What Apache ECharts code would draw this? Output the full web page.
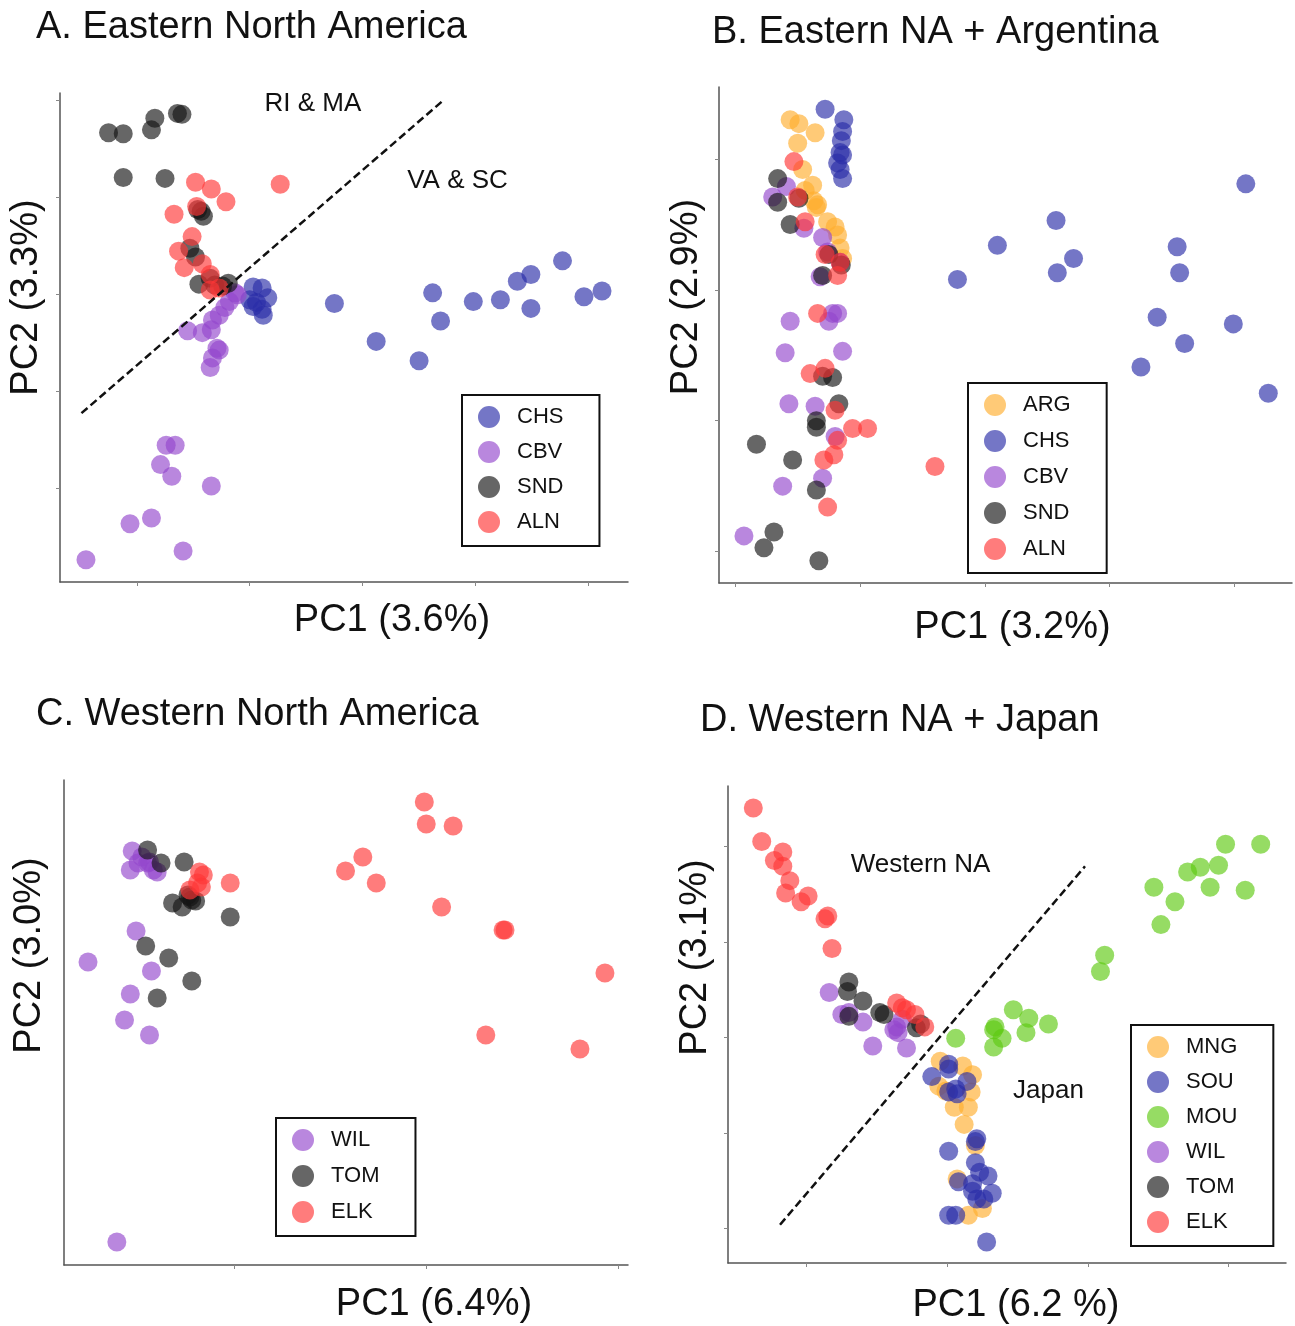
<!DOCTYPE html>
<html>
<head>
<meta charset="utf-8">
<script src="https://cdn.jsdelivr.net/npm/echarts@6/dist/echarts.min.js"></script>
<style>
  html, body { margin: 0; padding: 0; background: #fff; }
  #main { width: 1295px; height: 1326px; }
</style>
</head>
<body>
<div id="main"></div>
<script>
// PCA scores (axis units: one tick = 1)

// A. Eastern North America
var aCHS = [[0.03,0.07],[0.11,0.06],[0.16,-0.04],[0.00,-0.06],[0.06,-0.09],[0.11,-0.16],[0.12,-0.22],[0.03,-0.13],
  [0.75,-0.10],[1.12,-0.49],[1.50,-0.69],[1.62,0.01],[1.69,-0.28],[1.98,-0.08],[2.22,-0.06],[2.37,0.13],
  [2.49,0.20],[2.49,-0.15],[2.77,0.34],[2.96,-0.03],[3.12,0.03]];
var aCBV = [[-0.13,0.01],[-0.11,-0.01],[-0.18,-0.08],[-0.22,-0.14],[-0.27,-0.22],[-0.33,-0.27],[-0.34,-0.37],
  [-0.42,-0.40],[-0.55,-0.38],[-0.29,-0.56],[-0.27,-0.58],[-0.33,-0.66],[-0.35,-0.76],[-0.74,-1.56],[-0.66,-1.56],
  [-0.79,-1.76],[-0.69,-1.88],[-0.34,-1.98],[-0.87,-2.31],[-1.06,-2.37],[-0.59,-2.65],[-1.45,-2.74]];
var aSND = [[-1.25,1.66],[-1.12,1.65],[-0.87,1.69],[-0.84,1.81],[-0.64,1.86],[-0.60,1.85],[-1.12,1.20],[-0.75,1.19],
  [-0.46,0.87],[-0.43,0.85],[-0.41,0.80],[-0.53,0.47],[-0.48,0.38],[-0.35,0.16],[-0.45,0.10],[-0.31,0.09],
  [-0.19,0.11],[-0.24,0.08]];
var aALN = [[-0.48,1.15],[-0.34,1.08],[0.27,1.13],[-0.21,0.95],[-0.67,0.82],[-0.47,0.90],[-0.51,0.59],[-0.63,0.44],
  [-0.42,0.31],[-0.58,0.27],[-0.35,0.20],[-0.35,0.04],[-0.27,0.06]];
var aDivider = [[-1.49,-1.23],[1.71,1.99]];

// B. Eastern NA + Argentina
var bARG = [[-0.56,1.30],[-0.49,1.27],[-0.36,1.20],[-0.50,1.12],[-0.46,0.92],[-0.38,0.80],[-0.44,0.76],[-0.37,0.68],
  [-0.34,0.65],[-0.35,0.63],[-0.26,0.52],[-0.20,0.48],[-0.18,0.42],[-0.16,0.32],[-0.14,0.24]];
var bCHS = [[-0.28,1.38],[-0.13,1.30],[-0.14,1.21],[-0.15,1.14],[-0.16,1.05],[-0.14,1.03],[-0.18,0.97],[-0.16,0.92],
  [-0.14,0.85],[0.78,0.08],[1.10,0.34],[1.57,0.53],[1.71,0.24],[1.58,0.13],[2.54,0.33],[2.56,0.13],[2.38,-0.21],
  [2.60,-0.41],[2.25,-0.59],[2.99,-0.26],[3.09,0.81],[3.27,-0.79]];
var bCBV = [[-0.59,0.79],[-0.70,0.71],[-0.45,0.47],[-0.30,0.40],[-0.32,0.10],[-0.26,0.29],[-0.16,0.21],[-0.56,-0.24],
  [-0.22,-0.18],[-0.18,-0.18],[-0.25,-0.24],[-0.60,-0.48],[-0.14,-0.47],[-0.57,-0.87],[-0.36,-0.89],[-0.20,-1.12],
  [-0.30,-1.44],[-0.62,-1.50],[-0.93,-1.88]];
var bSND = [[-0.66,0.85],[-0.66,0.67],[-0.49,0.70],[-0.56,0.50],[-0.25,0.27],[-0.15,0.19],[-0.30,0.11],[-0.30,-0.66],
  [-0.22,-0.67],[-0.17,-0.87],[-0.35,-1.00],[-0.35,-1.05],[-0.83,-1.18],[-0.54,-1.30],[-0.35,-1.53],[-0.69,-1.85],
  [-0.77,-1.97],[-0.33,-2.07]];
var bALN = [[-0.53,0.98],[-0.50,0.71],[-0.44,0.52],[-0.28,0.27],[-0.18,0.11],[-0.16,0.21],[-0.34,-0.18],[-0.40,-0.64],
  [-0.28,-0.60],[-0.20,-0.92],[-0.06,-1.06],[0.06,-1.06],[-0.18,-1.15],[-0.21,-1.26],[-0.29,-1.30],[-0.26,-1.66],
  [0.60,-1.35]];

// C. Western North America
var cWIL = [[-1.53,1.49],[-1.54,1.30],[-1.48,1.43],[-1.45,1.37],[-1.42,1.30],[-1.40,1.28],[-1.44,1.38],[-1.50,1.37],
  [-1.51,0.69],[-1.76,0.38],[-1.43,0.29],[-1.54,0.06],[-1.57,-0.20],[-1.44,-0.35],[-1.61,-2.42]];
var cTOM = [[-1.45,1.50],[-1.38,1.37],[-1.26,1.38],[-1.32,0.97],[-1.27,0.93],[-1.23,1.03],[-1.22,1.00],[-1.20,0.99],
  [-1.24,1.05],[-1.02,0.83],[-1.46,0.54],[-1.34,0.42],[-1.22,0.19],[-1.40,0.02]];
var cELK = [[-1.18,1.28],[-1.16,1.25],[-1.19,1.17],[-1.17,1.13],[-1.23,1.10],[-1.02,1.17],[-0.01,1.98],[0.00,1.76],
  [0.14,1.74],[-0.33,1.43],[-0.42,1.29],[-0.26,1.17],[0.08,0.93],[0.40,0.70],[0.41,0.70],[0.93,0.27],[0.31,-0.35],
  [0.80,-0.49]];

// D. Western NA + Japan
var dMNG = [[-0.05,-0.25],[0.11,-0.30],[0.18,-0.39],[-0.06,-0.51],[0.17,-0.57],[0.05,-0.73],[0.15,-0.73],[0.12,-0.91],
  [0.20,-1.13],[0.25,-1.79],[0.15,-1.86],[0.07,-1.48],[-0.01,-0.56]];
var dSOU = [[0.01,-0.28],[0.01,-0.33],[-0.11,-0.41],[0.14,-0.46],[0.01,-0.57],[0.06,-0.54],[0.07,-0.59],[0.21,-1.06],
  [0.20,-1.09],[0.01,-1.19],[0.20,-1.31],[0.23,-1.41],[0.29,-1.45],[0.08,-1.51],[0.18,-1.53],[0.18,-1.61],
  [0.32,-1.63],[0.21,-1.69],[0.26,-1.69],[0.01,-1.86],[0.06,-1.86],[0.28,-2.14]];
var dMOU = [[1.98,2.02],[2.23,2.02],[1.93,1.80],[1.80,1.78],[1.71,1.73],[1.87,1.57],[2.12,1.54],[1.47,1.57],
  [1.62,1.42],[1.52,1.18],[1.12,0.86],[1.09,0.69],[0.47,0.29],[0.58,0.20],[0.72,0.14],[0.34,0.11],[0.33,0.08],
  [0.39,-0.01],[0.56,0.05],[0.33,-0.10],[0.06,-0.01]];
var dWIL = [[-0.84,0.47],[-0.75,0.24],[-0.70,0.26],[-0.60,0.16],[-0.53,-0.09],[-0.36,0.11],[-0.35,0.05],[-0.38,0.08],
  [-0.29,-0.11],[-0.32,0.19]];
var dTOM = [[-0.70,0.58],[-0.71,0.48],[-0.60,0.38],[-0.48,0.26],[-0.45,0.24],[-0.19,0.14],[-0.22,0.10],[-0.70,0.22]];
var dELK = [[-1.38,2.40],[-1.32,2.05],[-1.17,1.94],[-1.23,1.85],[-1.17,1.79],[-1.12,1.64],[-1.15,1.51],[-1.04,1.42],
  [-0.99,1.48],[-0.85,1.27],[-0.87,1.24],[-0.82,0.93],[-0.36,0.36],[-0.29,0.29],[-0.23,0.24],[-0.16,0.11],[-0.32,0.31]];
var dDivider = [[-1.19,-1.96],[0.98,1.79]];

var titles = ['A. Eastern North America', 'B. Eastern NA + Argentina', 'C. Western North America', 'D. Western NA + Japan'];
var pc1Names = ['PC1 (3.6%)', 'PC1 (3.2%)', 'PC1 (6.4%)', 'PC1 (6.2 %)'];
var pc2Names = ['PC2 (3.3%)', 'PC2 (2.9%)', 'PC2 (3.0%)', 'PC2 (3.1%)'];
var xTicks = [[-1, 0, 1, 2, 3], [-1, 0, 1, 2, 3], [-1, 0, 1], [-1, 0, 1, 2]];
var yTicks = [[-2, -1, 0, 1, 2], [-2, -1, 0, 1], [], [-2, -1, 0, 1, 2]];

var FONT = '"Liberation Sans", Arial, Helvetica, sans-serif';
var colors = {
  CHS: '#2a2ca8', SOU: '#2a2ca8',
  CBV: '#9447cd', WIL: '#9447cd',
  SND: '#141414', TOM: '#141414',
  ALN: '#ff3535', ELK: '#ff3535',
  ARG: '#ffae2e', MNG: '#ffae2e',
  MOU: '#5ec911'
};

// panel geometry
var grids = [
  { left: 60, top: 93, width: 568, height: 489 },
  { left: 719, top: 87, width: 573, height: 496 },
  { left: 64, top: 780, width: 564, height: 485 },
  { left: 728, top: 786, width: 558, height: 479 }
];
var xRange = [[-1.68, 3.35], [-1.13, 3.46], [-1.885, 1.05], [-1.56, 2.41]];
var yRange = [[-2.97, 2.07], [-2.24, 1.55], [-2.65, 2.2], [-2.36, 2.63]];
var xNameGap = [20, 26, 21, 24];
var xNameShift = [48, 7, 88, 9];
var yNameGap = [14, 13, 15, 13];
var yNameShift = [40, 38, 67, 67];

var xAxes = [], yAxes = [];
for (var i = 0; i < 4; i++) {
  var axisLine = { show: true, onZero: false, lineStyle: { color: '#555', width: 1.5 } };
  xAxes.push({
    type: 'value', gridIndex: i, min: xRange[i][0], max: xRange[i][1],
    name: pc1Names[i], nameLocation: 'middle', nameGap: xNameGap[i],
    nameTextStyle: { fontSize: 38, color: '#111', fontFamily: FONT, padding: [0, 0, 0, xNameShift[i] * 2] },
    axisLine: axisLine,
    axisTick: { show: xTicks[i].length > 0, length: 4, customValues: xTicks[i], lineStyle: { color: '#888' } },
    axisLabel: { show: false }, splitLine: { show: false }
  });
  yAxes.push({
    type: 'value', gridIndex: i, min: yRange[i][0], max: yRange[i][1],
    name: pc2Names[i], nameLocation: 'middle', nameGap: yNameGap[i],
    nameTextStyle: { fontSize: 38, color: '#111', fontFamily: FONT, padding: [0, 0, 0, yNameShift[i] * 2] },
    axisLine: axisLine,
    axisTick: { show: yTicks[i].length > 0, length: 4, customValues: yTicks[i], lineStyle: { color: '#888' } },
    axisLabel: { show: false }, splitLine: { show: false }
  });
}

function dots(name, data, idx) {
  return {
    name: name, type: 'scatter', xAxisIndex: idx, yAxisIndex: idx,
    data: data, symbolSize: 19, silent: true,
    itemStyle: { color: colors[name], opacity: 0.65 }
  };
}
function divider(data, idx) {
  return {
    type: 'line', xAxisIndex: idx, yAxisIndex: idx, data: data, symbol: 'none', silent: true, z: 5,
    lineStyle: { color: '#111', width: 2.5, type: [8, 4] }
  };
}
function note(text, pos, idx) {
  return {
    type: 'scatter', xAxisIndex: idx, yAxisIndex: idx, symbolSize: 0, silent: true, z: 6,
    data: [pos],
    label: {
      show: true, position: 'inside', formatter: text, fontSize: 26, color: '#111',
      fontFamily: FONT, textBorderWidth: 0, opacity: 1
    }
  };
}

var series = [
  dots('CHS', aCHS, 0), dots('CBV', aCBV, 0), dots('SND', aSND, 0), dots('ALN', aALN, 0),
  divider(aDivider, 0), note('RI & MA', [0.56, 1.96], 0), note('VA & SC', [1.84, 1.16], 0),

  dots('ARG', bARG, 1), dots('CHS', bCHS, 1), dots('CBV', bCBV, 1), dots('SND', bSND, 1), dots('ALN', bALN, 1),

  dots('WIL', cWIL, 2), dots('TOM', cTOM, 2), dots('ELK', cELK, 2),

  dots('MNG', dMNG, 3), dots('SOU', dSOU, 3), dots('MOU', dMOU, 3), dots('WIL', dWIL, 3),
  dots('TOM', dTOM, 3), dots('ELK', dELK, 3),
  divider(dDivider, 3), note('Western NA', [-0.19, 1.81], 3), note('Japan', [0.72, -0.56], 3)
];

function legendBox(names, left, top, gap) {
  return {
    orient: 'vertical', left: left, top: top, data: names, selectedMode: false,
    icon: 'circle', itemWidth: 46, itemHeight: 22, itemGap: gap,
    padding: [11, 36, 13, 16], borderColor: '#111', borderWidth: 2,
    itemStyle: { opacity: 0.65 },
    textStyle: { fontSize: 22, lineHeight: 22, color: '#111', fontFamily: FONT }
  };
}

var option = {
  backgroundColor: '#fff',
  animation: false,
  title: [
    { text: titles[0], left: 36, top: 9 },
    { text: titles[1], left: 712, top: 14 },
    { text: titles[2], left: 36, top: 696 },
    { text: titles[3], left: 700, top: 702 }
  ].map(function (t) {
    t.padding = 0;
    t.textStyle = { fontSize: 38, fontWeight: 'normal', color: '#111', fontFamily: FONT };
    return t;
  }),
  legend: [
    legendBox(['CHS', 'CBV', 'SND', 'ALN'], 462, 395, 13),
    legendBox(['ARG', 'CHS', 'CBV', 'SND', 'ALN'], 968, 383, 14),
    legendBox(['WIL', 'TOM', 'ELK'], 276, 1118, 14),
    legendBox(['MNG', 'SOU', 'MOU', 'WIL', 'TOM', 'ELK'], 1131, 1025, 13)
  ],
  grid: grids,
  xAxis: xAxes,
  yAxis: yAxes,
  series: series
};

var chart = echarts.init(document.getElementById('main'));
chart.setOption(option);
</script>
</body>
</html>
